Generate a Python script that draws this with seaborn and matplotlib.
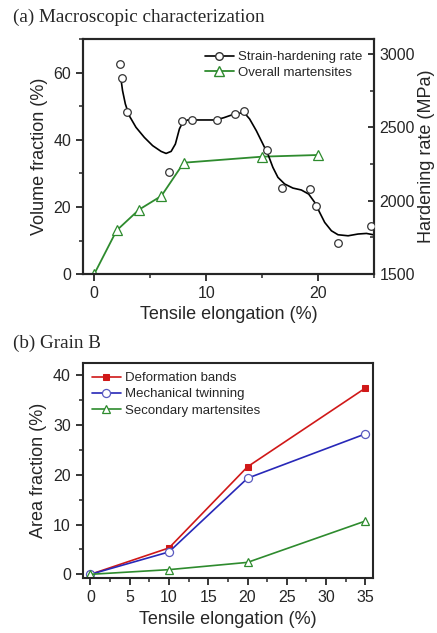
import matplotlib
matplotlib.use("Agg")
import matplotlib.pyplot as plt
from matplotlib.lines import Line2D
from matplotlib.ticker import MultipleLocator
import seaborn as sns

# (a) overall martensites, volume fraction (%)
mart_x = [0, 2, 4, 6, 8, 15, 20]
mart_y = [0, 13.0, 19.2, 23.3, 33.2, 35.0, 35.5]

# (a) strain-hardening rate markers (MPa)
hard_x = [2.3, 2.45, 2.96, 6.66, 7.82, 8.75, 10.99, 12.57, 13.37, 15.46, 16.75, 19.28, 19.82, 21.79, 24.72]
hard_y = [2929, 2834, 2601, 2195, 2544, 2553, 2553, 2594, 2613, 2348, 2086, 2079, 1967, 1712, 1831]

# (a) smooth guide curve
curve_x = [2.39, 2.53, 2.78, 3.13, 3.73, 4.48, 5.22, 5.97, 6.42, 6.87, 7.25, 7.61, 7.91, 8.35,
           9.40, 10.86, 11.60, 12.35, 12.80, 13.37, 13.88, 14.48, 15.07, 15.51, 15.96, 16.41,
           17.01, 17.75, 18.50, 19.16, 19.70, 20.14, 20.59, 21.19, 21.78, 22.68, 23.57, 24.32, 25.07]
curve_y = [2829, 2750, 2659, 2579, 2500, 2431, 2375, 2336, 2322, 2336, 2386, 2489, 2534, 2550,
           2550, 2550, 2566, 2586, 2593, 2602, 2557, 2477, 2386, 2318, 2227, 2159,
           2114, 2086, 2073, 2045, 1988, 1920, 1852, 1795, 1768, 1761, 1773, 1777, 1766]

# (b) grain B, area fraction (%)
grain_x = [0, 10, 20, 35]
bands = [0, 5.3, 21.6, 37.4]
twins = [0, 4.5, 19.3, 28.2]
secondary = [0, 0.94, 2.4, 10.7]

sns.set_style("ticks")
plt.rcParams['font.family'] = ['Liberation Sans', 'DejaVu Sans']
plt.rcParams['axes.linewidth'] = 1.5

green = "#2e8b2e"
red = "#d01818"
blue = "#2828b8"

fig = plt.figure(figsize=(4.37, 6.33), dpi=100)

# ---- panel (a)
ax1 = fig.add_axes([0.190, 0.567, 0.666, 0.371])
ax2 = ax1.twinx()

sns.lineplot(x=mart_x, y=mart_y, ax=ax1, color=green, lw=1.3, marker="^", markersize=6.5,
             markerfacecolor="white", markeredgecolor=green, markeredgewidth=0.9, zorder=3)
sns.lineplot(x=curve_x, y=curve_y, ax=ax2, color="black", lw=1.2)
sns.scatterplot(x=hard_x, y=hard_y, ax=ax2, marker="o", s=30, facecolor="white",
                edgecolor="#333333", linewidth=0.9, zorder=4)

ax1.set_xlim(-1, 25)
ax1.set_ylim(0, 70)
ax2.set_ylim(1500, 3100)
ax1.xaxis.set_major_locator(MultipleLocator(10))
ax1.xaxis.set_minor_locator(MultipleLocator(5))
ax1.yaxis.set_major_locator(MultipleLocator(20))
ax1.yaxis.set_minor_locator(MultipleLocator(10))
ax2.yaxis.set_major_locator(MultipleLocator(500))
ax2.yaxis.set_minor_locator(MultipleLocator(250))
ax1.tick_params(which="major", direction="out", length=5, width=1.3, labelsize=11.5)
ax1.tick_params(which="minor", direction="out", length=3, width=1.1)
ax2.tick_params(which="major", direction="in", length=4, width=1.3, labelsize=11.5, pad=4)
ax2.tick_params(which="minor", direction="in", length=3, width=1.1)
for a in (ax1, ax2):
    for s in a.spines.values():
        s.set_linewidth(1.5)
        s.set_visible(True)
ax1.set_xlabel("Tensile elongation (%)", fontsize=13, labelpad=4)
ax1.set_ylabel("Volume fraction (%)", fontsize=13, labelpad=4)
ax2.set_ylabel("Hardening rate (MPa)", fontsize=13, labelpad=2)

handles = [
    Line2D([], [], color="black", lw=1.2, marker="o", markersize=5.5,
           markerfacecolor="white", markeredgecolor="#333333"),
    Line2D([], [], color=green, lw=1.3, marker="^", markersize=6.5,
           markerfacecolor="white", markeredgecolor=green),
]
ax2.legend(handles, ["Strain-hardening rate", "Overall martensites"], loc="upper right",
           frameon=False, fontsize=9.5, handlelength=2.2, handletextpad=0.3,
           borderaxespad=0.5, labelspacing=0.25)

fig.text(0.03, 0.972, "(a) Macroscopic characterization", family="Liberation Serif",
         fontsize=13.8, va="center", ha="left")

# ---- panel (b)
ax3 = fig.add_axes([0.189, 0.0864, 0.665, 0.3406])
sns.lineplot(x=grain_x, y=bands, ax=ax3, color=red, lw=1.2, marker="s", markersize=4.8,
             markerfacecolor=red, markeredgecolor=red, label="Deformation bands")
sns.lineplot(x=grain_x, y=twins, ax=ax3, color=blue, lw=1.2, marker="o", markersize=5.8,
             markerfacecolor="white", markeredgecolor="#5a5ac0", markeredgewidth=0.9,
             label="Mechanical twinning")
sns.lineplot(x=grain_x, y=secondary, ax=ax3, color=green, lw=1.2, marker="^", markersize=6.2,
             markerfacecolor="white", markeredgecolor=green, markeredgewidth=0.9,
             label="Secondary martensites")

ax3.set_xlim(-1, 36)
ax3.set_ylim(-0.8, 42.5)
ax3.xaxis.set_major_locator(MultipleLocator(5))
ax3.xaxis.set_minor_locator(MultipleLocator(2.5))
ax3.yaxis.set_major_locator(MultipleLocator(10))
ax3.yaxis.set_minor_locator(MultipleLocator(5))
ax3.tick_params(which="major", direction="out", length=5, width=1.3, labelsize=11.5)
ax3.tick_params(which="minor", direction="out", length=3, width=1.1)
for s in ax3.spines.values():
    s.set_linewidth(1.5)
    s.set_visible(True)
ax3.set_xlabel("Tensile elongation (%)", fontsize=13, labelpad=4)
ax3.set_ylabel("Area fraction (%)", fontsize=13, labelpad=4)
ax3.legend(loc="upper left", frameon=False, fontsize=9.5, handlelength=2.2,
           handletextpad=0.3, borderaxespad=0.3, labelspacing=0.3)

fig.text(0.03, 0.458, "(b) Grain B", family="Liberation Serif",
         fontsize=13.8, va="center", ha="left")

fig.savefig("out.png", dpi=100)
